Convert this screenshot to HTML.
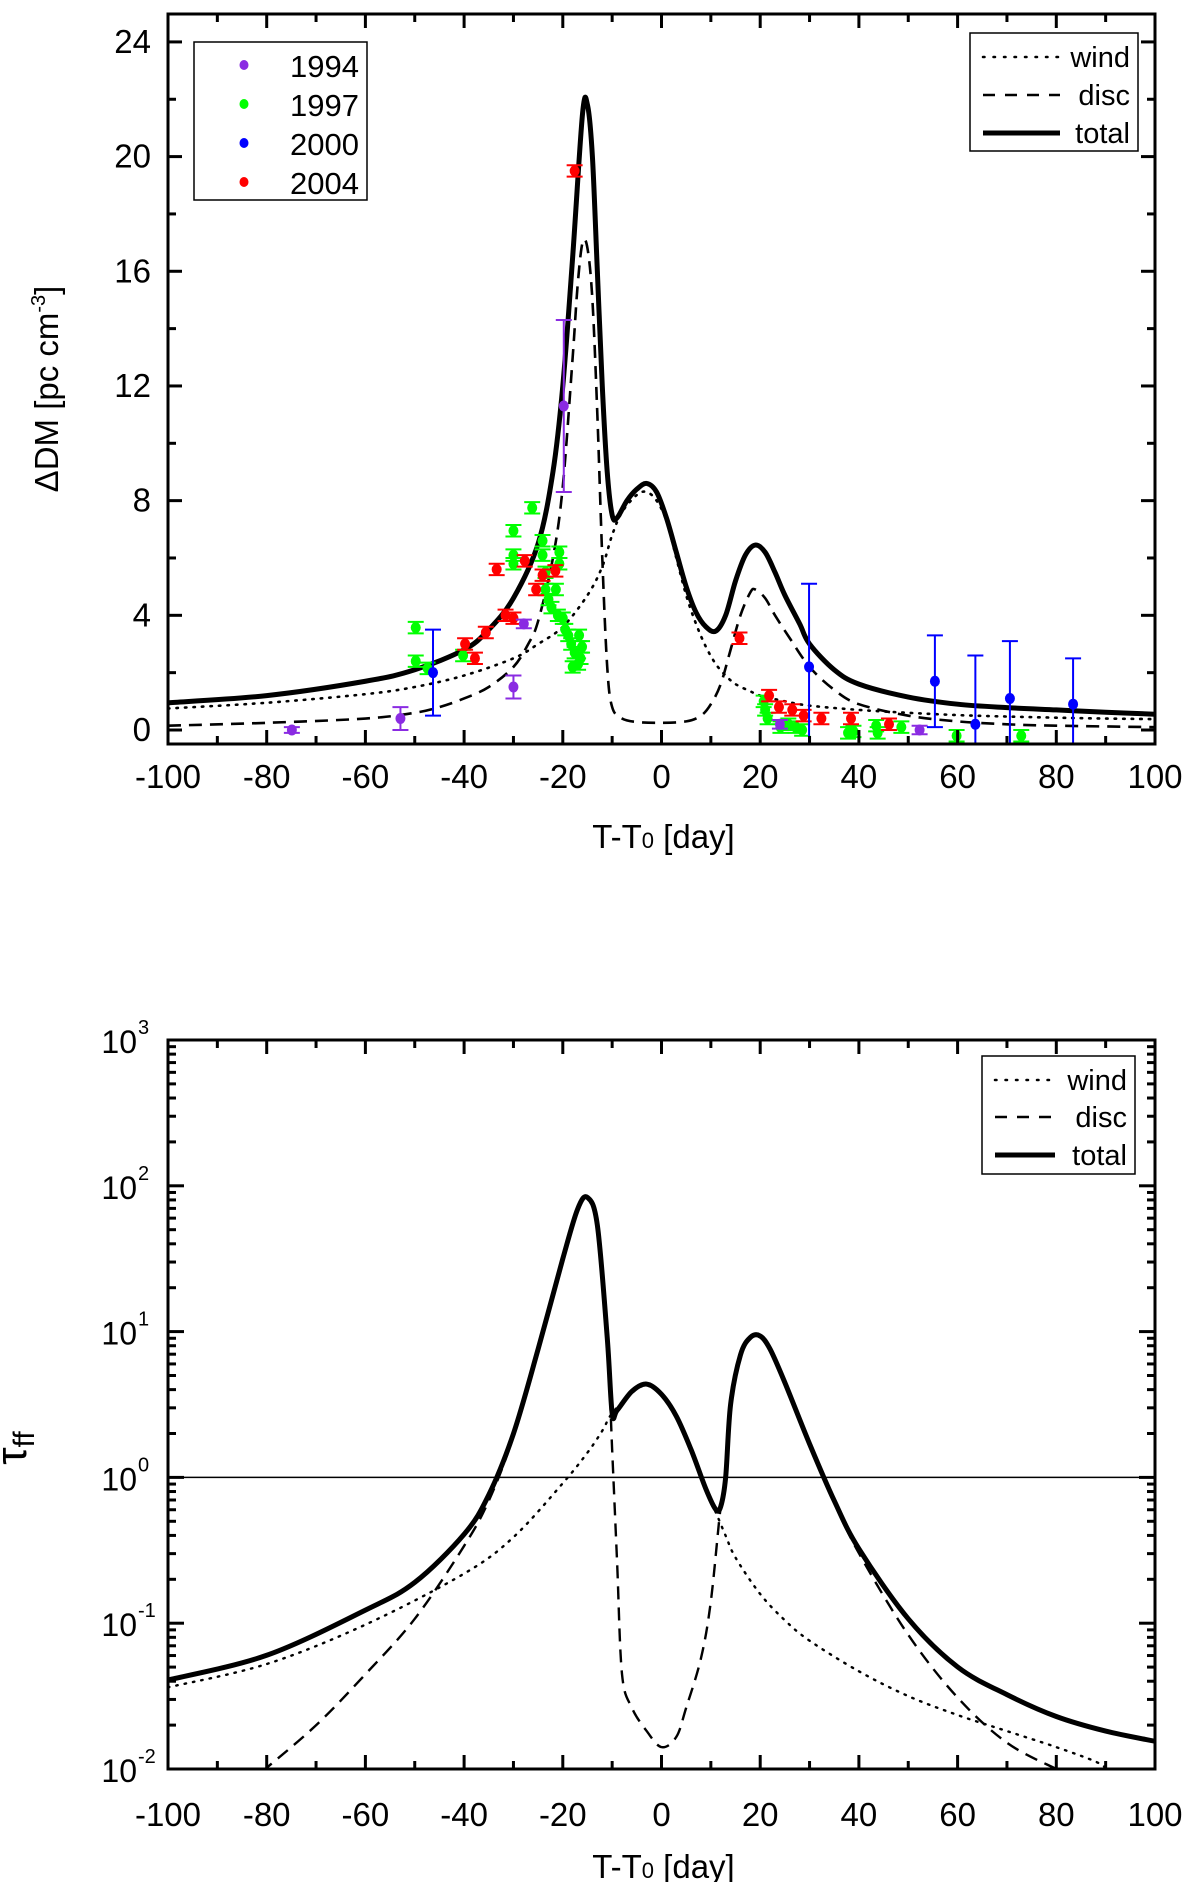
<!DOCTYPE html>
<html><head><meta charset="utf-8"><style>
html,body{margin:0;padding:0;background:#fff;}
svg{display:block;font-family:"Liberation Sans",Arial,sans-serif;}
</style></head><body>
<svg id="fig" width="1200" height="1882" viewBox="0 0 1200 1882">
<defs>
<clipPath id="clipTop"><rect x="168" y="14" width="987" height="730"/></clipPath>
<clipPath id="clipBot"><rect x="168" y="1040" width="987" height="729"/></clipPath>
</defs>
<g id="topChart"></g>
<g id="botChart"></g>
</svg>
<script>
// ---------- Top chart data ----------
const dmWindX = [-100,-80,-60,-50,-40,-30,-25,-20,-15,-12,-10,-8,-5,-3,-1,1,3,5,7,9,11,13,15,18,20,25,30,40,50,60,70,80,90,100];
const dmWindY = [0.75,0.95,1.25,1.5,1.9,2.5,3.0,3.6,4.7,5.7,6.8,7.6,8.2,8.3,8.0,7.3,6.0,4.7,3.7,2.9,2.3,1.9,1.6,1.35,1.2,1.0,0.85,0.7,0.6,0.52,0.47,0.43,0.4,0.38];
const dmDiscX = [-100,-80,-60,-50,-45,-40,-35,-30,-27,-25,-22,-20,-18,-17,-16,-15,-14,-13,-12,-11,-10,-8,-5,0,5,8,10,12,14,16,18,19,21,23,26,30,35,40,50,60,70,80,100];
const dmDiscY = [0.15,0.25,0.4,0.6,0.8,1.1,1.5,2.2,3.0,3.8,6.0,8.5,13,15.5,17,16.8,15,11,6,2.2,0.8,0.4,0.28,0.25,0.3,0.5,0.9,1.6,2.8,4.0,4.8,4.9,4.6,4.0,3.2,2.2,1.4,0.9,0.5,0.3,0.2,0.15,0.1];
const dmTotalX = [-100,-80,-60,-50,-40,-35,-30,-25,-22,-20,-18,-16,-15,-14,-13,-12,-11,-10,-9,-7,-5,-3,-1,1,3,5,7,9,11,13,15,17,19,21,23,25,28,30,35,40,50,60,70,80,90,100];
const dmTotalY = [0.95,1.2,1.7,2.1,2.8,3.5,4.6,6.5,9,12,16.5,21.5,21.8,20,16,12,9,7.5,7.4,8.0,8.4,8.6,8.3,7.4,6.2,5.0,4.1,3.6,3.45,4.0,5.2,6.1,6.45,6.2,5.5,4.7,3.7,3.0,2.1,1.6,1.15,0.9,0.78,0.7,0.62,0.55];
const y1994X = [-74.9,-52.9,-30,-27.9,-19.8,24,52.3];
const y1994Y = [0,0.4,1.5,3.7,11.3,0.2,0];
const y1994E = [0.1,0.4,0.4,0.15,3,0.15,0.15];
const y1997X = [-49.8,-49.8,-47.4,-40.2,-30,-30,-30,-26.2,-24.1,-24.1,-23.5,-23.5,-22.9,-22.3,-21.4,-20.7,-20.7,-21,-20,-19.5,-18.9,-18.3,-17.6,-16.9,-16.4,-16.1,-16.7,-18,20.7,21,21.5,24.1,25.7,27.2,28.5,37.8,38.9,43.5,43.8,48.6,59.8,72.9];
const y1997Y = [3.57,2.4,2.15,2.6,6.95,6.1,5.8,7.75,6.6,6.1,5.5,4.9,4.55,4.27,4.9,6.2,5.8,4.0,3.9,3.5,3.3,3.0,2.7,2.3,2.5,2.9,3.3,2.2,1.0,0.7,0.4,0.1,0.2,0.1,0,-0.1,-0.05,0.15,-0.1,0.1,-0.2,-0.2];
const y2000X = [-46.3,29.9,55.4,63.6,70.6,83.4];
const y2000Y = [2.0,2.2,1.7,0.2,1.1,0.9];
const y2000E = [1.5,2.9,1.6,2.4,2.0,1.6];
const y2004X = [-17.6,-33.4,-31.6,-30,-27.7,-35.6,-39.8,-37.8,-25.4,-24.1,-21.5,15.8,21.8,23.8,26.5,28.8,32.4,38.4,46.1];
const y2004Y = [19.5,5.6,4.0,3.9,5.9,3.4,3.0,2.5,4.9,5.4,5.55,3.2,1.2,0.8,0.7,0.5,0.4,0.4,0.2];
const xTicks = [-100,-80,-60,-40,-20,0,20,40,60,80,100];
const dmTicks = [0,4,8,12,16,20,24];
// ---------- Bottom chart data (log10 tau) ----------
const tauTotalX = [-100,-80,-60,-50,-40,-35,-30,-25,-20,-17,-15,-13,-11,-10,-9,-6,-3,0,3,6,9,11,12,13,14,16,18,20,22,25,30,35,40,50,60,70,80,90,100];
const tauTotalL = [-1.39,-1.22,-0.91,-0.72,-0.39,-0.12,0.30,0.88,1.50,1.84,1.92,1.73,0.96,0.44,0.46,0.59,0.64,0.57,0.42,0.19,-0.08,-0.22,-0.20,0.0,0.50,0.84,0.96,0.97,0.88,0.65,0.23,-0.16,-0.49,-0.97,-1.30,-1.49,-1.64,-1.74,-1.81];
const tauWindX = [-100,-80,-60,-40,-30,-20,-15,-12,-10,-6,-3,0,3,6,9,11,13,15,20,25,30,40,50,60,70,80,88,91];
const tauWindL = [-1.44,-1.28,-1.01,-0.66,-0.41,-0.04,0.17,0.32,0.44,0.58,0.63,0.56,0.41,0.18,-0.09,-0.24,-0.40,-0.55,-0.80,-0.98,-1.12,-1.33,-1.50,-1.63,-1.74,-1.85,-1.95,-2.02];
const tauDiscX = [-81,-70,-60,-50,-40,-35,-30,-25,-20,-17,-15,-13,-11,-10,-9,-8,-6,-3,0,3,5,8,10,12,13,14,16,18,20,22,25,30,35,40,50,60,70,80,82];
const tauDiscL = [-2.02,-1.70,-1.35,-0.97,-0.47,-0.16,0.28,0.87,1.50,1.84,1.92,1.73,0.95,0.19,-0.58,-1.35,-1.58,-1.74,-1.85,-1.78,-1.58,-1.24,-0.85,-0.20,-0.05,0.48,0.83,0.95,0.96,0.87,0.64,0.22,-0.17,-0.52,-1.08,-1.51,-1.82,-2.0,-2.03];
const tauTicks = [-2,-1,0,1,2,3];

const NS="http://www.w3.org/2000/svg";
function mk(parent,tag,attrs){const e=document.createElementNS(NS,tag);for(const k in attrs)e.setAttribute(k,attrs[k]);parent.appendChild(e);return e;}
const X0=168,X1=1155;
function sx(d){return X0+(d+100)/200*(X1-X0);}
const TY0=744,TY1=14;
function syTop(v){return 730 - v*28.67;}
const BY0=1769,BY1=1040;
function syBot(l){return 1040 + (3-l)*145.8;}

function smoothPath(xs,ys,fx,fy){
  const p=xs.map((x,i)=>[fx(x),fy(ys[i])]);
  let d=`M${p[0][0].toFixed(2)},${p[0][1].toFixed(2)}`;
  for(let i=0;i<p.length-1;i++){
    const p0=p[i-1]||p[i],p1=p[i],p2=p[i+1],p3=p[i+2]||p2;
    const c1=[p1[0]+(p2[0]-p0[0])/6,p1[1]+(p2[1]-p0[1])/6];
    const c2=[p2[0]-(p3[0]-p1[0])/6,p2[1]-(p3[1]-p1[1])/6];
    d+=` C${c1[0].toFixed(2)},${c1[1].toFixed(2)} ${c2[0].toFixed(2)},${c2[1].toFixed(2)} ${p2[0].toFixed(2)},${p2[1].toFixed(2)}`;
  }
  return d;
}

const topG=document.getElementById('topChart');
const botG=document.getElementById('botChart');

// ===== TOP =====
const tc=mk(topG,'g',{'clip-path':'url(#clipTop)'});


let el;
el=mk(tc,'path',{d:smoothPath(dmWindX,dmWindY,sx,syTop),fill:'none',stroke:'#000','stroke-width':2.6,'stroke-dasharray':'1.5 7','stroke-linecap':'round'});


el=mk(tc,'path',{d:smoothPath(dmDiscX,dmDiscY,sx,syTop),fill:'none',stroke:'#000','stroke-width':2.6,'stroke-dasharray':'13 8'});


el=mk(tc,'path',{d:smoothPath(dmTotalX,dmTotalY,sx,syTop),fill:'none',stroke:'#000','stroke-width':5,'stroke-linejoin':'round'});



function points(xs,ys,es,color,name){
  const g=mk(tc,'g',{});
  
  
  xs.forEach((x,i)=>{
    const err=es?es[i]:0.2;
    const cx=sx(x),cy=syTop(ys[i]),ya=syTop(ys[i]+err),yb=syTop(ys[i]-err);
    mk(g,'line',{x1:cx,x2:cx,y1:ya,y2:yb,stroke:color,'stroke-width':2});
    mk(g,'line',{x1:cx-8,x2:cx+8,y1:ya,y2:ya,stroke:color,'stroke-width':2});
    mk(g,'line',{x1:cx-8,x2:cx+8,y1:yb,y2:yb,stroke:color,'stroke-width':2});
    const c=mk(g,'ellipse',{cx:cx,cy:cy,rx:5,ry:5.5,fill:color});
    
    
  });
}
points(y1997X,y1997Y,null,'#00ff00','series-1997');
points(y2004X,y2004Y,null,'#ff0000','series-2004');
points(y1994X,y1994Y,y1994E,'#8a2be2','series-1994');
points(y2000X,y2000Y,y2000E,'#0000ff','series-2000');

function frameAndTicks(g,yT,yB){
  const fr=mk(g,'rect',{x:X0,y:yT,width:X1-X0,height:yB-yT,fill:'none',stroke:'#000','stroke-width':3});
  
  
  for(let d=-100;d<=100;d+=10){
    const L=(d%20===0)?14:8,x=sx(d);
    mk(g,'line',{x1:x,x2:x,y1:yB,y2:yB-L,stroke:'#000','stroke-width':3});
    mk(g,'line',{x1:x,x2:x,y1:yT,y2:yT+L,stroke:'#000','stroke-width':3});
  }
}
frameAndTicks(topG,TY1,TY0);
for(let v=0;v<=24;v+=2){
  const L=(v%4===0)?14:8,y=syTop(v);
  mk(topG,'line',{x1:X0,x2:X0+L,y1:y,y2:y,stroke:'#000','stroke-width':3});
  mk(topG,'line',{x1:X1,x2:X1-L,y1:y,y2:y,stroke:'#000','stroke-width':3});
}
dmTicks.forEach(v=>{
  const t=mk(topG,'text',{x:151,y:syTop(v)+11,'font-size':33,'text-anchor':'end'});
  t.textContent=v;
  
  
});
function xLabels(g,yy){
  xTicks.forEach(v=>{
    const t=mk(g,'text',{x:sx(v),y:yy,'font-size':33,'text-anchor':'middle'});
    t.textContent=v;
    
    
  });
}
xLabels(topG,788);
el=mk(topG,'text',{x:sx(0)+2,y:848,'font-size':33,'text-anchor':'middle'});
el.innerHTML='T-T<tspan font-size="22">0</tspan> [day]';


el=mk(topG,'text',{transform:'translate(58,389) rotate(-90)','font-size':33,'text-anchor':'middle'});
el.innerHTML='ΔDM [pc cm<tspan font-size="20" dy="-13">-3</tspan><tspan dy="13">]</tspan>';



// year legend
const lg=mk(topG,'g',{});


mk(lg,'rect',{x:194,y:42,width:173,height:158,fill:'#fff',stroke:'#000','stroke-width':1.5});
[['1994','#8a2be2'],['1997','#00ff00'],['2000','#0000ff'],['2004','#ff0000']].forEach((r,i)=>{
  const y=65+i*39;
  const en=mk(lg,'g',{});
  
  
  mk(en,'ellipse',{cx:244,cy:y,rx:4.5,ry:5,fill:r[1]});
  const t=mk(en,'text',{x:359,y:y+12,'font-size':31,'text-anchor':'end'});
  t.textContent=r[0];
});
function lineLegend(g,x,y,w,h,ys,len){
  const L=mk(g,'g',{});
  
  
  mk(L,'rect',{x:x,y:y,width:w,height:h,fill:'#fff',stroke:'#000','stroke-width':1.5});
  const styles=[['wind',{'stroke-width':2.5,'stroke-dasharray':'1.5 9','stroke-linecap':'round'}],['disc',{'stroke-width':2.5,'stroke-dasharray':'12 10'}],['total',{'stroke-width':5}]];
  styles.forEach((s,i)=>{
    const en=mk(L,'g',{});
    
    
    const a=Object.assign({x1:x+13,x2:x+13+len,y1:ys[i],y2:ys[i],stroke:'#000'},s[1]);
    mk(en,'line',a);
    const t=mk(en,'text',{x:x+w-8,y:ys[i]+10,'font-size':29,'text-anchor':'end'});
    t.textContent=s[0];
  });
}
lineLegend(topG,970,33,168,118,[57,95,133],77);

// ===== BOTTOM =====
const bc=mk(botG,'g',{'clip-path':'url(#clipBot)'});


el=mk(bc,'line',{x1:X0,x2:X1,y1:syBot(0),y2:syBot(0),stroke:'#000','stroke-width':1.5});


el=mk(bc,'path',{d:smoothPath(tauWindX,tauWindL,sx,syBot),fill:'none',stroke:'#000','stroke-width':2.4,'stroke-dasharray':'1.5 7','stroke-linecap':'round'});


el=mk(bc,'path',{d:smoothPath(tauDiscX,tauDiscL,sx,syBot),fill:'none',stroke:'#000','stroke-width':2.4,'stroke-dasharray':'13 8'});


el=mk(bc,'path',{d:smoothPath(tauTotalX,tauTotalL,sx,syBot),fill:'none',stroke:'#000','stroke-width':5,'stroke-linejoin':'round'});



frameAndTicks(botG,BY1,BY0);
for(let dec=-2;dec<3;dec++){
  for(let m=1;m<10;m++){
    const y=syBot(dec+Math.log10(m)),L=(m===1)?16:8;
    mk(botG,'line',{x1:X0,x2:X0+L,y1:y,y2:y,stroke:'#000','stroke-width':3});
    mk(botG,'line',{x1:X1,x2:X1-L,y1:y,y2:y,stroke:'#000','stroke-width':3});
  }
}
tauTicks.forEach(v=>{
  const t=mk(botG,'text',{x:137,y:syBot(v)+13,'font-size':32,'text-anchor':'end'});
  t.textContent='10';
  
  
  const s=mk(botG,'text',{x:138,y:syBot(v)-6,'font-size':20});
  s.textContent=String(v);
});
xLabels(botG,1826);
el=mk(botG,'text',{x:sx(0)+2,y:1878,'font-size':33,'text-anchor':'middle'});
el.innerHTML='T-T<tspan font-size="22">0</tspan> [day]';


el=mk(botG,'text',{transform:'translate(26,1448) rotate(-90)','font-size':44,'text-anchor':'middle'});
el.innerHTML='τ<tspan font-size="30" dy="8">ff</tspan>';


lineLegend(botG,982,1056,153,118,[1080,1117,1155],60);
</script>
</body></html>
